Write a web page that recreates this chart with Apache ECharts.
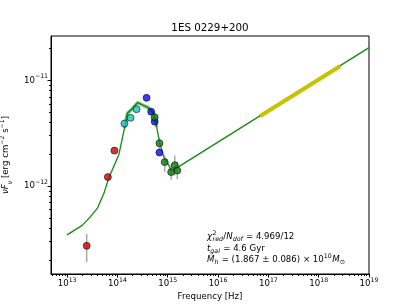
<!DOCTYPE html>
<html><head><meta charset="utf-8">
<script src="https://cdn.jsdelivr.net/npm/echarts@6/dist/echarts.min.js"></script>
<style>html,body{margin:0;padding:0;background:#fff}#c{width:411px;height:308px}</style>
</head><body><div id="c"></div><script>
// ---- data ----
var redNu = [2.45e13, 6.46e13, 8.71e13];
var redF  = [2.73e-13, 1.22e-12, 2.17e-12];
var cyanNu = [1.38e14, 1.82e14, 2.40e14];
var cyanF  = [3.91e-12, 4.43e-12, 5.35e-12];
var blueNu = [3.80e14, 4.68e14, 5.50e14, 6.84e14];
var blueF  = [6.84e-12, 5.07e-12, 4.08e-12, 2.08e-12];
var greenNu = [5.50e14, 6.84e14, 8.71e14, 1.17e15, 1.38e15, 1.55e15];
var greenF  = [4.49e-12, 2.55e-12, 1.69e-12, 1.36e-12, 1.58e-12, 1.41e-12];
var errNu = [2.45e13, 6.84e14, 8.71e14, 1.17e15, 1.38e15, 1.55e15];
var errLo = [1.92e-13, 2.19e-12, 1.36e-12, 1.15e-12, 1.26e-12, 1.17e-12];
var errHi = [3.54e-13, 2.88e-12, 1.95e-12, 1.58e-12, 1.95e-12, 1.70e-12];
var modelLogNu = [13.00,13.30,13.46,13.60,13.73,13.83,14.03,14.14,14.20,14.31,14.40,14.49,14.62,14.72,14.78,14.84,14.92,15.02,15.07,15.22,19.0];
var modelLogF  = [-12.46,-12.37,-12.29,-12.21,-12.07,-11.92,-11.70,-11.45,-11.31,-11.26,-11.21,-11.23,-11.26,-11.31,-11.44,-11.59,-11.72,-11.80,-11.86,-11.815,-10.69];
var bandLogNu = [14.14,14.20,14.31,14.40,14.49,14.62,14.72,14.78];
var bandLogF  = [-11.45,-11.31,-11.26,-11.21,-11.23,-11.26,-11.31,-11.44];
var xrayLogNu = [16.84, 18.43];
var xrayLogF  = [-11.336, -10.863];
var xMajor = [13,14,15,16,17,18,19];
var yMajor = [-12,-11];
var xRange = [12.68, 19.0];
var yRange = [-12.83, -10.58];
// annotation lines: [text, kind] kinds: n normal, i italic, p superscript, s subscript, si italic subscript, st = stacked sup/sub (sup|sub)
var annot1 = [['\u03c7','i'],['2|red','st'],['/','n'],['N','i'],['dof','si'],[' = 4.969/12','n']];
var annot2 = [['t','i'],['gal','si'],[' = 4.6 Gyr','n']];
var annot3 = [['M','i'],['h','si'],[' = (1.867 \u00b1 0.086) \u00d7 10','n'],['10','p'],['M','i'],['\u2299','s']];

// ---- helpers ----
var L = Math.log10;
function pts(nu, f){ return nu.map(function(v,i){ return [L(v), L(f[i])]; }); }
function lpts(lx, ly){ return lx.map(function(v,i){ return [v, ly[i]]; }); }
function minorTicks(lo, hi){
  var out=[];
  for (var d=Math.floor(lo); d<=Math.ceil(hi); d++){
    for (var k=2;k<=9;k++){ var v=d+L(k); if(v>=lo && v<=hi) out.push(v); }
  }
  return out;
}
var FF = 'DejaVu Sans';
var richBase = {
  b:{fontSize:8.6, lineHeight:14, verticalAlign:'middle', fontFamily:FF, color:'#000'},
  i:{fontSize:8.6, lineHeight:14, verticalAlign:'middle', fontFamily:FF, fontStyle:'italic', color:'#000'},
  sup:{fontSize:6.2, lineHeight:8, verticalAlign:'top', fontFamily:FF, color:'#000'},
  sub:{fontSize:6.4, lineHeight:9, verticalAlign:'bottom', fontFamily:FF, color:'#000'},
  isub:{fontSize:6.4, lineHeight:9, verticalAlign:'bottom', fontFamily:FF, fontStyle:'italic', color:'#000'}
};
function powLabel(v){ var e=Math.round(v); return '{b|10}{sup|' + String(e).replace('-','\u2212') + '}'; }

// build annotation text pieces with measured widths
var mctx = document.createElement('canvas').getContext('2d');
function fontOf(kind){
  var small = (kind==='p'||kind==='s'||kind==='si'||kind==='st');
  var italic = (kind==='i'||kind==='si');
  return {size: small?6.3:8.6, italic: italic};
}
function buildLine(parts, x0, yc){
  var els=[], x=x0;
  parts.forEach(function(p){
    var txt=p[0], kind=p[1];
    if (kind==='st'){
      var a = txt.split('|');
      mctx.font = '6.3px "'+FF+'"'; var w1 = mctx.measureText(a[0]).width;
      mctx.font = 'italic 6.3px "'+FF+'"'; var w2 = mctx.measureText(a[1]).width;
      els.push({type:'text', x:x+0.5, y:yc-3.6, style:{text:a[0], fontSize:6.3, fontFamily:FF, fill:'#000', align:'left', verticalAlign:'middle'}});
      els.push({type:'text', x:x+0.5, y:yc+2.4, style:{text:a[1], fontSize:6.3, fontFamily:FF, fontStyle:'italic', fill:'#000', align:'left', verticalAlign:'middle'}});
      x += Math.max(w1,w2)+0.8;
      return;
    }
    var f = fontOf(kind);
    mctx.font = (f.italic?'italic ':'') + f.size + 'px "' + FF + '"';
    var w = mctx.measureText(txt).width;
    var dy = kind==='p' ? -3.6 : (kind==='s'||kind==='si') ? 2.4 : 0;
    els.push({type:'text', x:x, y:yc+dy, style:{text:txt, fontSize:f.size, fontFamily:FF, fontStyle:f.italic?'italic':'normal', fill:'#000', align:'left', verticalAlign:'middle'}});
    x += w + ((kind==='s'||kind==='si'||kind==='p')?0.5:0);
  });
  return els;
}

var chart = echarts.init(document.getElementById('c'), null, {renderer:'canvas'});
var GREEN = '#138a13';
var graphics = [
  {type:'text', x:210, y:28, style:{text:'1ES 0229+200', fontSize:10.3, fontFamily:FF, fill:'#000', align:'center', verticalAlign:'middle'}},
  {type:'text', x:210, y:297, style:{text:'Frequency [Hz]', fontSize:8.6, fontFamily:FF, fill:'#000', align:'center', verticalAlign:'middle'}}
].concat(buildLine(annot1, 207, 237), buildLine(annot2, 207, 249), buildLine(annot3, 207, 260));

chart.setOption({
  animation:false,
  backgroundColor:'#fff',
  grid:{left:51, right:42, top:36, bottom:34, show:true, borderColor:'#000', borderWidth:1,
        backgroundColor:'transparent', containLabel:false, outerBoundsMode:'none'},
  xAxis:[
    {type:'value', min:xRange[0], max:xRange[1], position:'bottom',
     axisLine:{show:true, lineStyle:{color:'#000', width:1}},
     axisTick:{show:true, customValues:xMajor, length:3.5, lineStyle:{color:'#000'}},
     axisLabel:{show:true, customValues:xMajor, formatter:powLabel, margin:3, rich:richBase},
     splitLine:{show:false}},
    {type:'value', min:xRange[0], max:xRange[1], position:'bottom',
     axisLine:{show:false},
     axisTick:{show:true, customValues:minorTicks(xRange[0], xRange[1]), length:2, lineStyle:{color:'#000'}},
     axisLabel:{show:false}, splitLine:{show:false}}
  ],
  yAxis:[
    {type:'value', min:yRange[0], max:yRange[1], position:'left',
     axisLine:{show:true, lineStyle:{color:'#000', width:1}},
     axisTick:{show:true, customValues:yMajor, length:3.5, lineStyle:{color:'#000'}},
     axisLabel:{show:true, customValues:yMajor, formatter:powLabel, margin:3, rich:richBase},
     splitLine:{show:false},
     name:'{i|\u03bdF}{isub|\u03bd}{b| [erg cm}{sup|\u22122}{b| s}{sup|\u22121}{b|]}',
     nameLocation:'middle', nameRotate:90, nameGap:31,
     nameTextStyle:{rich:richBase}},
    {type:'value', min:yRange[0], max:yRange[1], position:'left',
     axisLine:{show:false},
     axisTick:{show:true, customValues:minorTicks(yRange[0], yRange[1]), length:2, lineStyle:{color:'#000'}},
     axisLabel:{show:false}, splitLine:{show:false}}
  ],
  series:[
    {type:'line', data:lpts(bandLogNu, bandLogF), showSymbol:false, z:1,
     lineStyle:{color:'rgba(30,150,30,0.55)', width:3.5}},
    {type:'line', data:lpts(modelLogNu, modelLogF), showSymbol:false, z:2,
     lineStyle:{color:GREEN, width:1.3}},
    {type:'line', data:lpts(xrayLogNu, xrayLogF), showSymbol:false, z:3,
     lineStyle:{color:'#c4c400', width:4, cap:'butt'}},
    {type:'custom', z:4,
     data: errNu.map(function(v,i){ return [L(v), L(errLo[i]), L(errHi[i])]; }),
     encode:{x:0, y:[1,2]},
     renderItem:function(params, api){
       var p1 = api.coord([api.value(0), api.value(1)]);
       var p2 = api.coord([api.value(0), api.value(2)]);
       return {type:'line', shape:{x1:p1[0], y1:p1[1], x2:p2[0], y2:p2[1]},
               style:{stroke:'rgba(140,140,140,0.75)', lineWidth:1.5}};
     }},
    {type:'scatter', data:pts(redNu, redF), symbolSize:7, z:5,
     itemStyle:{color:'#d00000', borderColor:'#000', borderWidth:0.7}},
    {type:'scatter', data:pts(cyanNu, cyanF), symbolSize:7, z:5,
     itemStyle:{color:'#1cbfc4', borderColor:'#000', borderWidth:0.7}},
    {type:'scatter', data:pts(blueNu, blueF), symbolSize:7, z:5,
     itemStyle:{color:'#0a0af5', borderColor:'#000', borderWidth:0.7}},
    {type:'scatter', data:pts(greenNu, greenF), symbolSize:7, z:6,
     itemStyle:{color:'#0a800a', borderColor:'#000', borderWidth:0.7}}
  ],
  graphic: graphics
});
</script></body></html>
